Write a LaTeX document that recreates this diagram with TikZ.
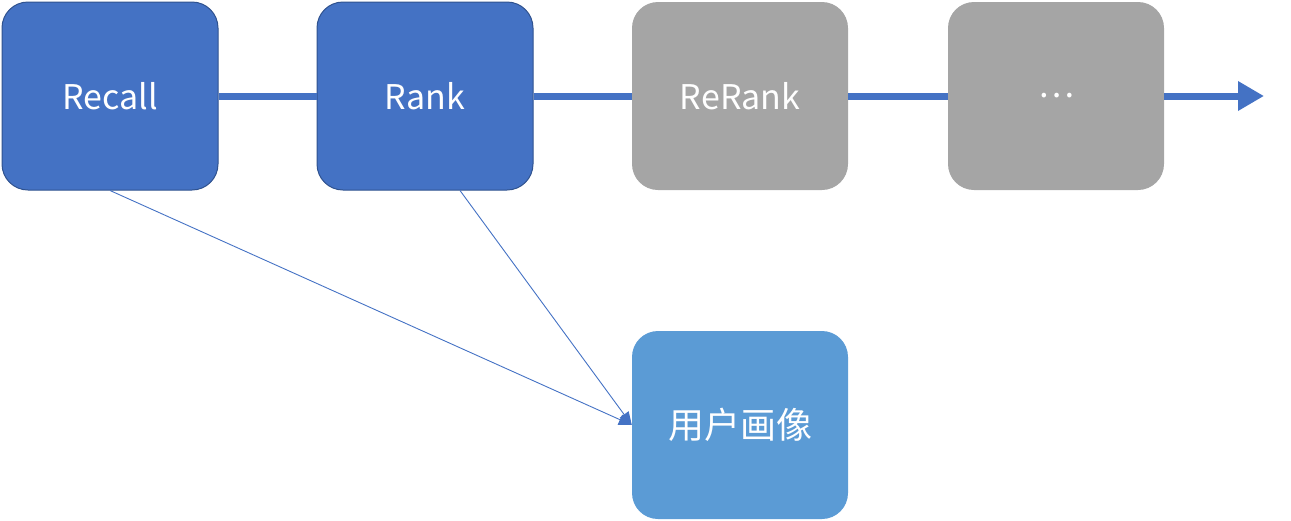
\documentclass[tikz,border=0pt]{standalone}
\usepackage{fontspec}
\setmainfont{Noto Sans CJK SC}
\usetikzlibrary{arrows.meta}
\definecolor{dblue}{HTML}{4472C4}
\definecolor{dborder}{HTML}{2F528F}
\definecolor{lgray}{HTML}{A5A5A5}
\definecolor{lblue}{HTML}{5B9BD5}
\tikzset{
  box/.style={rounded corners=26pt, minimum width=216pt, minimum height=188pt, inner sep=0pt,
    text=white, font=\fontsize{34}{40}\selectfont},
  bluebox/.style={box, fill=dblue, draw=dborder, line width=1pt},
  graybox/.style={box, fill=lgray},
  lightbox/.style={box, fill=lblue},
  flow/.style={draw=dblue, line width=7pt},
  thin/.style={draw=dblue, line width=0.9pt, -{Triangle[length=13pt,width=11pt]}}
}
\begin{document}
\begin{tikzpicture}[x=1pt,y=-1pt]
\useasboundingbox (0,0) rectangle (1291,520);
\node[bluebox] (recall) at (110,96) {Recall};
\node[bluebox] (rank) at (425,96) {Rank};
\node[graybox] (rerank) at (740,96) {ReRank};
\node[graybox] (dots) at (1056,96) {…};
\node[lightbox, font=\fontsize{36}{40}\selectfont] (profile) at (740,425) {用户画像};
\coordinate (end) at (1264,96);
\draw[flow] (recall.east) -- (rank.west);
\draw[flow] (rank.east) -- (rerank.west);
\draw[flow] (rerank.east) -- (dots.west);
\draw[flow, -{Triangle[length=26pt,width=28pt]}] (dots.east) -- (end);
\draw[thin] (recall.south) -- (profile.west);
\draw[thin] ([xshift=35pt]rank.south) -- (profile.west);
\end{tikzpicture}
\end{document}
